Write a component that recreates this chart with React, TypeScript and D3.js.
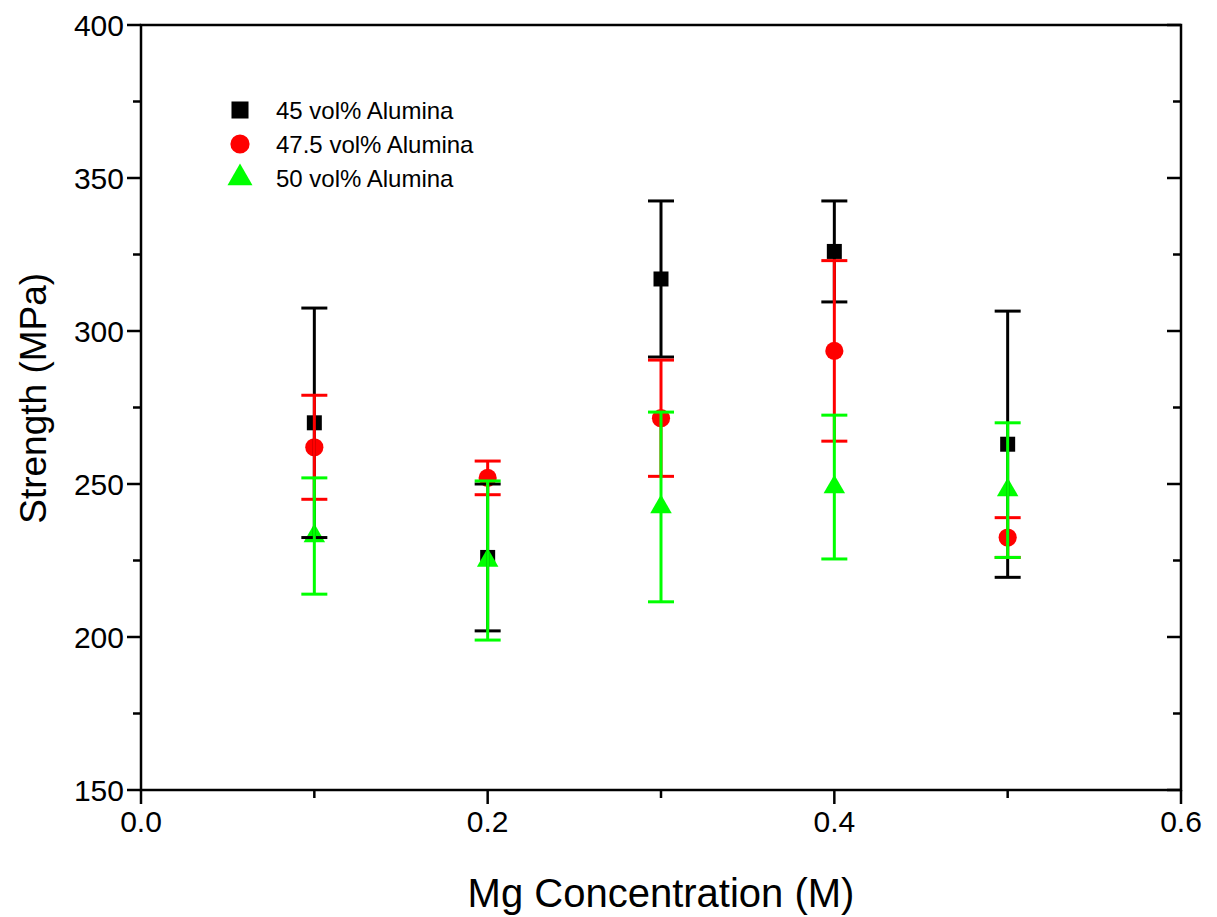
import React from 'react'
import { scaleLinear, symbol, symbolSquare, symbolCircle, symbolTriangle, range } from 'd3'

// Mg concentration (M)
const conc = [0.1, 0.2, 0.3, 0.4, 0.5]

// strength (MPa) and error for each alumina loading
const s45 = [270, 226, 317, 326, 263]
const e45 = [37.5, 24, 25.5, 16.5, 43.5]
const s475 = [262, 252, 271.5, 293.5, 232.5]
const e475 = [17, 5.5, 19, 29.5, 6.5]
const s50 = [233, 225, 242.5, 249, 248]
const e50 = [19, 26, 31, 23.5, 22]

const seriesNames = ['45 vol% Alumina', '47.5 vol% Alumina', '50 vol% Alumina']
const xTicks = [0.0, 0.2, 0.4, 0.6]
const yTicks = [150, 200, 250, 300, 350, 400]

const W = 1217
const H = 917
const font = '"Liberation Sans", Arial, sans-serif'

function App() {
  const x = scaleLinear().domain([0, 0.6]).range([141, 1181])
  const y = scaleLinear().domain([150, 400]).range([790, 25])

  const series = [
    { vals: s45, errs: e45, color: '#000000', shape: symbolSquare, size: 225 },
    { vals: s475, errs: e475, color: '#ff0000', shape: symbolCircle, size: 260 },
    { vals: s50, errs: e50, color: '#00ff00', shape: symbolTriangle, size: 200 },
  ]

  const xMinor = range(0, 0.61, 0.1)
  const yMinor = range(150, 401, 25)
  const cap = 13

  return (
    <svg width={W} height={H} style={{ position: 'absolute', left: 0, top: 0, background: '#fff' }}>
      {/* markers */}
      {series.map((s, si) => (
        <g key={'m' + si}>
          {conc.map((c, i) => (
            <path key={i} d={symbol(s.shape, s.size)()!} transform={`translate(${x(c)},${y(s.vals[i])})`} fill={s.color} />
          ))}
        </g>
      ))}
      {/* error bars */}
      {series.map((s, si) => (
        <g key={'e' + si} stroke={s.color} strokeWidth={3}>
          {conc.map((c, i) => {
            const hi = y(s.vals[i] + s.errs[i])
            const lo = y(s.vals[i] - s.errs[i])
            return (
              <g key={i}>
                <line x1={x(c)} x2={x(c)} y1={hi} y2={lo} />
                <line x1={x(c) - cap} x2={x(c) + cap} y1={hi} y2={hi} />
                <line x1={x(c) - cap} x2={x(c) + cap} y1={lo} y2={lo} />
              </g>
            )
          })}
        </g>
      ))}

      {/* frame */}
      <rect x={x(0)} y={y(400)} width={x(0.6) - x(0)} height={y(150) - y(400)} fill="none" stroke="#000" strokeWidth={2.5} />

      {/* ticks */}
      <g stroke="#000" strokeWidth={2.5}>
        {xMinor.map((t, i) => (
          <line key={i} x1={x(t)} x2={x(t)} y1={y(150)} y2={y(150) + (i % 2 === 0 ? 14 : 8)} />
        ))}
        {yMinor.map((t, i) => (
          <g key={i}>
            <line x1={x(0)} x2={x(0) - (i % 2 === 0 ? 14 : 8)} y1={y(t)} y2={y(t)} />
            <line x1={x(0.6)} x2={x(0.6) - (i % 2 === 0 ? 14 : 8)} y1={y(t)} y2={y(t)} />
          </g>
        ))}
      </g>
      <g fontFamily={font} fontSize={30} fill="#000">
        {xTicks.map(t => (
          <text key={t} x={x(t)} y={y(150) + 42} textAnchor="middle">{t.toFixed(1)}</text>
        ))}
        {yTicks.map(t => (
          <text key={t} x={x(0) - 17} y={y(t)} dy="0.36em" textAnchor="end">{t}</text>
        ))}
      </g>
      <text x={(x(0) + x(0.6)) / 2} y={907} textAnchor="middle" fontFamily={font} fontSize={40}>Mg Concentration (M)</text>
      <text transform={`translate(46,${y(278)}) rotate(-90)`} textAnchor="middle" fontFamily={font} fontSize={37}>Strength (MPa)</text>

      {/* legend */}
      {series.map((s, si) => (
        <g key={'l' + si} transform={`translate(240,${110 + si * 34})`}>
          <path d={symbol(s.shape, si === 2 ? 270 : 290)()!} fill={s.color} />
          <text x={36} dy="0.36em" fontFamily={font} fontSize={24}>{seriesNames[si]}</text>
        </g>
      ))}
    </svg>
  )
}

export default App
